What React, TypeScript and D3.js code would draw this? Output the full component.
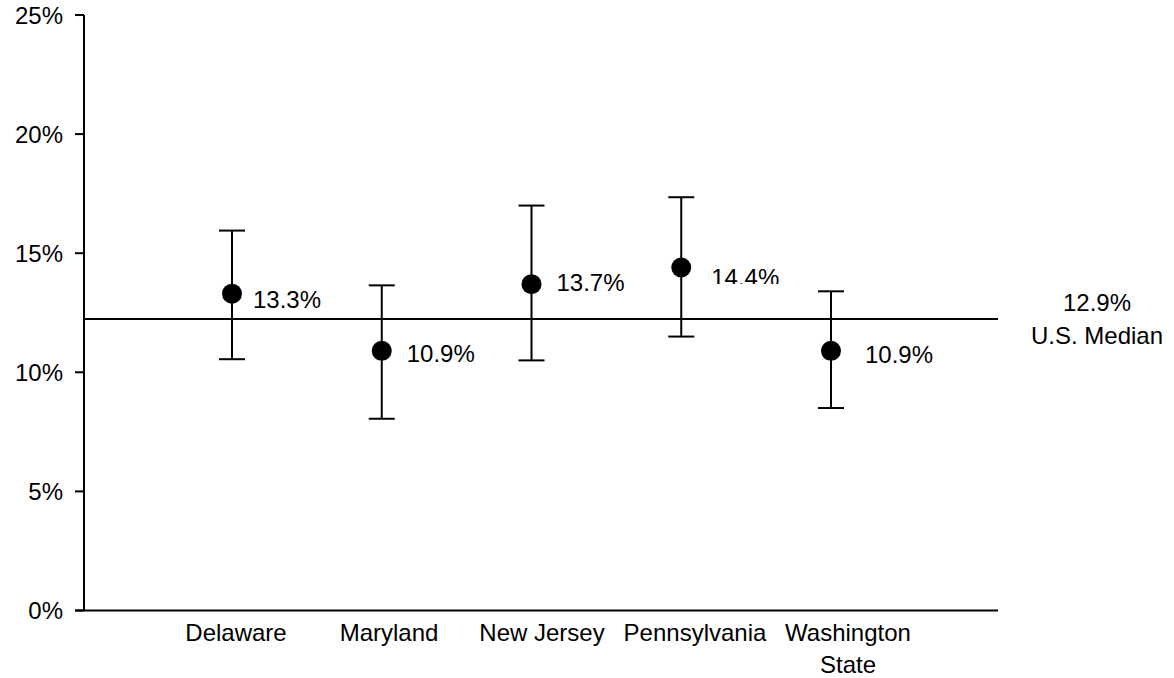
import React from "react";
import * as d3 from "d3";

const categories = ["Delaware", "Maryland", "New Jersey", "Pennsylvania", "Washington State"];
const values = [13.3, 10.9, 13.7, 14.4, 10.9];
const lower = [10.55, 8.05, 10.5, 11.5, 8.5];
const upper = [15.95, 13.65, 17.0, 17.35, 13.4];
const yTicks = [0, 5, 10, 15, 20, 25];
const medianLabel = "12.9%";
const medianLineValue = 12.24;

const W = 1174;
const H = 678;
const FONT = "'Liberation Sans', Arial, sans-serif";

export default function App() {
  const y = d3.scaleLinear().domain([0, 25]).range([610.5, 15]);
  const x = d3.scalePoint<string>().domain(categories).range([232, 831]);
  const xLabel = d3.scalePoint<string>().domain(categories).range([236, 848]);
  const axisX = 84;
  const axisRight = 998;
  const fs = 24;
  const clipY = 284;
  const labelDx = [21, 25, 25, 30, 34];
  const labelDy = [14, 11, 7, 19, 12];

  return (
    <svg width={W} height={H} style={{ position: "absolute", left: 0, top: 0 }} fontFamily={FONT}>
      <defs>
        <clipPath id="clipPenn">
          <rect x={0} y={0} width={W} height={clipY} />
        </clipPath>
      </defs>
      {/* y axis */}
      <line x1={axisX} x2={axisX} y1={y(25)} y2={y(0)} stroke="#000" strokeWidth={2} />
      {yTicks.map((t) => (
        <g key={t}>
          <line x1={75} x2={axisX} y1={y(t)} y2={y(t)} stroke="#000" strokeWidth={2} />
          <text x={63} y={y(t)} dy="0.36em" textAnchor="end" fontSize={fs} fill="#000">
            {t}%
          </text>
        </g>
      ))}
      {/* x axis */}
      <line x1={75} x2={axisRight} y1={y(0)} y2={y(0)} stroke="#000" strokeWidth={2} />
      {categories.map((c) => {
        const parts = c === "Washington State" ? ["Washington", "State"] : [c];
        return (
          <text key={c} x={xLabel(c)} y={641} textAnchor="middle" fontSize={fs} fill="#000">
            {parts.map((p, i) => (
              <tspan key={p} x={xLabel(c)} dy={i === 0 ? 0 : 32}>
                {p}
              </tspan>
            ))}
          </text>
        );
      })}
      {/* median line */}
      <line x1={axisX} x2={axisRight} y1={y(medianLineValue)} y2={y(medianLineValue)} stroke="#000" strokeWidth={2} />
      <text x={1097} y={311} textAnchor="middle" fontSize={fs} fill="#000">
        {medianLabel}
      </text>
      <text x={1097} y={344} textAnchor="middle" fontSize={fs} fill="#000">
        U.S. Median
      </text>
      {/* error bars and points */}
      {categories.map((c, i) => {
        const cx = x(c) as number;
        return (
          <g key={c}>
            <line x1={cx} x2={cx} y1={y(upper[i])} y2={y(lower[i])} stroke="#000" strokeWidth={2} />
            <line x1={cx - 13} x2={cx + 13} y1={y(upper[i])} y2={y(upper[i])} stroke="#000" strokeWidth={2} />
            <line x1={cx - 13} x2={cx + 13} y1={y(lower[i])} y2={y(lower[i])} stroke="#000" strokeWidth={2} />
            <circle cx={cx} cy={y(values[i])} r={10} fill="#000" />
            <text
              x={cx + labelDx[i]}
              y={y(values[i]) + labelDy[i]}
              fontSize={fs}
              fill="#000"
              clipPath={i === 3 ? "url(#clipPenn)" : undefined}
            >
              {values[i].toFixed(1)}%
            </text>
          </g>
        );
      })}
    </svg>
  );
}
